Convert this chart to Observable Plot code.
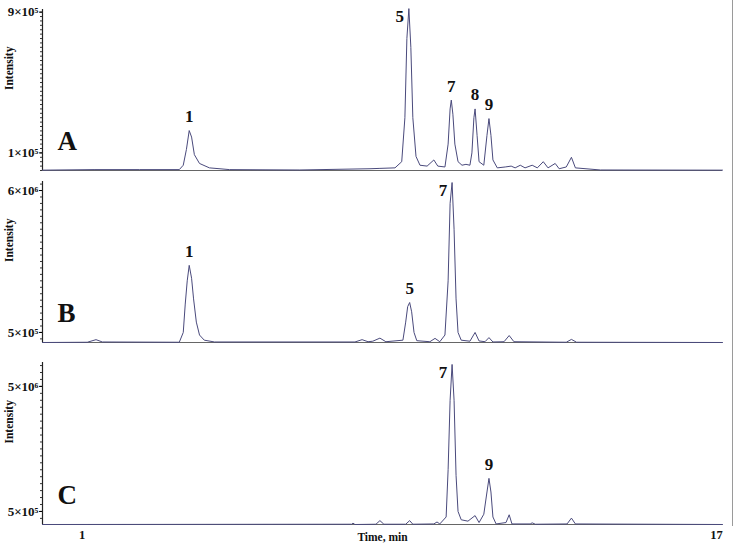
<!DOCTYPE html>
<html><head><meta charset="utf-8">
<script src="https://cdn.jsdelivr.net/npm/d3@7"></script>
<script src="https://cdn.jsdelivr.net/npm/@observablehq/plot@0.6"></script>
<style>
body{margin:0;background:#fff;}
#wrap{position:relative;width:735px;height:549px;overflow:hidden;}
#wrap svg{display:block;}
#rline{position:absolute;left:732px;top:0;width:1px;height:526px;background:#9a9a9a;}
</style></head><body><div id="wrap"><div id="rline"></div></div>
<script>
// ---------- data (time in min, intensity in counts) ----------
const timeA = [0.0,1.3,2.44,3.45,3.55,3.63,3.70,3.76,3.83,3.96,4.21,4.72,6.49,8.26,8.51,8.89,9.06,9.14,9.19,9.24,9.29,9.34,9.42,9.52,9.70,9.87,9.97,10.15,10.23,10.28,10.31,10.35,10.40,10.48,10.58,10.68,10.78,10.83,10.88,10.91,10.96,11.01,11.13,11.21,11.26,11.31,11.36,11.47,11.67,11.82,11.92,12.05,12.17,12.35,12.48,12.63,12.75,12.93,13.03,13.21,13.34,13.44,14.07,17.15];
const intensityA = [0.02e5,0.05e5,0.05e5,0.05e5,0.3e5,1.2e5,2.27e5,1.9e5,0.9e5,0.4e5,0.15e5,0.05e5,0.03e5,0.1e5,0.12e5,0.15e5,0.5e5,3.0e5,7.5e5,9.2e5,7.0e5,3.0e5,0.8e5,0.3e5,0.25e5,0.6e5,0.25e5,0.2e5,1.5e5,3.5e5,4.0e5,3.2e5,1.5e5,0.5e5,0.3e5,0.35e5,0.3e5,1.0e5,3.0e5,3.5e5,2.0e5,0.5e5,0.3e5,2.0e5,2.95e5,2.0e5,0.6e5,0.15e5,0.2e5,0.25e5,0.15e5,0.3e5,0.15e5,0.3e5,0.15e5,0.5e5,0.15e5,0.4e5,0.1e5,0.2e5,0.75e5,0.15e5,0.03e5,0.02e5];

const timeB = [0.0,1.13,1.35,1.51,3.45,3.55,3.60,3.65,3.70,3.76,3.81,3.88,3.96,4.08,4.34,7.88,8.06,8.21,8.33,8.51,8.66,9.09,9.16,9.21,9.26,9.31,9.37,9.44,9.77,9.90,10.02,10.15,10.23,10.28,10.33,10.38,10.43,10.48,10.56,10.78,10.91,11.01,11.16,11.26,11.36,11.64,11.77,11.89,13.21,13.34,13.47,17.15];
const intensityB = [0.11e6,0.12e6,0.22e6,0.13e6,0.12e6,0.5e6,1.6e6,2.5e6,3.1e6,2.6e6,1.8e6,0.9e6,0.4e6,0.2e6,0.13e6,0.13e6,0.22e6,0.14e6,0.16e6,0.28e6,0.14e6,0.2e6,0.9e6,1.5e6,1.66e6,1.3e6,0.5e6,0.18e6,0.14e6,0.27e6,0.14e6,0.4e6,2.5e6,5.5e6,6.31e6,4.5e6,1.8e6,0.5e6,0.2e6,0.16e6,0.5e6,0.17e6,0.14e6,0.3e6,0.13e6,0.14e6,0.38e6,0.14e6,0.12e6,0.23e6,0.12e6,0.11e6];

const timeC = [0.0,7.80,7.83,7.88,8.41,8.51,8.61,9.16,9.26,9.34,9.87,9.95,10.02,10.18,10.23,10.28,10.33,10.38,10.43,10.48,10.56,10.73,10.91,11.01,11.13,11.21,11.26,11.31,11.36,11.44,11.69,11.77,11.84,12.30,12.35,12.43,13.23,13.34,13.44,17.15];
const intensityC = [0.03e6,0.04e6,0.08e6,0.03e6,0.04e6,0.17e6,0.04e6,0.04e6,0.17e6,0.04e6,0.05e6,0.12e6,0.05e6,0.3e6,2.0e6,4.5e6,5.79e6,4.5e6,1.8e6,0.5e6,0.2e6,0.15e6,0.35e6,0.1e6,0.4e6,1.2e6,1.69e6,1.2e6,0.3e6,0.05e6,0.1e6,0.38e6,0.05e6,0.05e6,0.09e6,0.04e6,0.05e6,0.26e6,0.05e6,0.03e6];

// peak labels
const peaksA = ["1","5","7","8","9"];
const peakTimesA = [3.70,9.24,10.31,10.91,11.26];
const peakValuesA = [2.27e5,9.2e5,4.0e5,3.5e5,2.95e5];
const peaksB = ["1","5","7"];
const peakTimesB = [3.70,9.26,10.33];
const peakValuesB = [3.1e6,1.66e6,6.31e6];
const peaksC = ["7","9"];
const peakTimesC = [10.33,11.26];
const peakValuesC = [5.79e6,1.69e6];

const panelLetters = ["A","B","C"];
const yTicksA = [1e5, 9e5];
const yTicksB = [5e5, 6e6];
const yTicksC = [5e5, 5e6];
const xTicks = [1, 17];
const xTitle = "Time, min";
const yTitle = "Intensity";

// ---------- rendering ----------
const SERIF = "'Liberation Serif', 'DejaVu Serif', serif";
const sup = {"0":"⁰","1":"¹","2":"²","3":"³","4":"⁴","5":"⁵","6":"⁶","7":"⁷","8":"⁸","9":"⁹"};
function sci(v){
  const e = Math.floor(Math.log10(v) + 1e-9);
  const m = Math.round(v / Math.pow(10, e));
  return m + "×10" + String(e).split("").map(c => sup[c]).join("");
}

function panel(opts){
  const {time, inten, names, pt, pv, letter, yDomain, yTicks, minorStep, height, marginTop, marginBottom, bottomAxis} = opts;
  const xDomain = [0, 17.15];
  const line = time.map((t,i) => ({t, v: inten[i]}));
  const labels = names.map((n,i) => ({n, t: pt[i], v: pv[i]}));
  const top = labels.filter(d => d.v > 0.9 * yDomain[1]);
  const normal = labels.filter(d => d.v <= 0.9 * yDomain[1]);
  const minor = d3.range(Math.ceil(yDomain[0]/minorStep)*minorStep, yDomain[1], minorStep);
  const marks = [
    Plot.ruleX([xDomain[0]], {stroke: "#222", strokeWidth: 1.2}),
    Plot.axisY({ticks: minor, tickSize: 2, tickFormat: null, text: null, stroke: "#333", strokeWidth: 1, label: null}),
    Plot.axisY({ticks: yTicks, tickSize: 3, tickPadding: 1, tickFormat: sci, fontSize: 13, fontWeight: "bold", fill: "#111", label: null}),
    Plot.ruleY([yDomain[0]], {stroke: "#666", strokeWidth: 1.2}),
    Plot.line(line, {x: "t", y: "v", stroke: "#4a4a7c", strokeWidth: 1}),
    Plot.text(normal, {x: "t", y: "v", text: "n", dy: -14, fontSize: 17, fontWeight: "bold", fill: "#111"}),
    Plot.text(top, {x: "t", y: "v", text: "n", dx: -9, dy: 8, fontSize: 17, fontWeight: "bold", fill: "#111"}),
    Plot.text([letter], {frameAnchor: "bottom-left", dx: 15, dy: -21, fontSize: 27, fontWeight: "bold", fill: "#111"}),
    Plot.text([yTitle], {frameAnchor: "left", dx: -33, rotate: -90, fontSize: 11.5, fontWeight: "bold", fill: "#111"})
  ];
  if (bottomAxis){
    marks.push(Plot.axisX({ticks: xTicks, tickSize: 0, tickPadding: 6, tickFormat: d => String(d), fontSize: 12.5, fontWeight: "bold", fill: "#111", label: null}));
    marks.push(Plot.text([xTitle], {frameAnchor: "bottom", dy: 16, fontSize: 11.5, fontWeight: "bold", fill: "#111"}));
  }
  return Plot.plot({
    width: 735, height, marginLeft: 42, marginRight: 13, marginTop, marginBottom,
    style: {fontFamily: SERIF, background: "#fff", overflow: "visible"},
    x: {domain: xDomain, axis: null},
    y: {domain: yDomain, axis: null},
    marks
  });
}

const wrap = document.getElementById("wrap");
wrap.appendChild(panel({time: timeA, inten: intensityA, names: peaksA, pt: peakTimesA, pv: peakValuesA, letter: panelLetters[0],
  yDomain: [0, 9.15e5], yTicks: yTicksA, minorStep: 0.25e5, height: 171, marginTop: 9, marginBottom: 1}));
wrap.appendChild(panel({time: timeB, inten: intensityB, names: peaksB, pt: peakTimesB, pv: peakValuesB, letter: panelLetters[1],
  yDomain: [0.11e6, 6.35e6], yTicks: yTicksB, minorStep: 0.25e6, height: 172, marginTop: 10, marginBottom: 1}));
wrap.appendChild(panel({time: timeC, inten: intensityC, names: peaksC, pt: peakTimesC, pv: peakValuesC, letter: panelLetters[2],
  yDomain: [0.03e6, 5.86e6], yTicks: yTicksC, minorStep: 0.25e6, height: 206, marginTop: 19, marginBottom: 25, bottomAxis: true}));
</script>
</body></html>
